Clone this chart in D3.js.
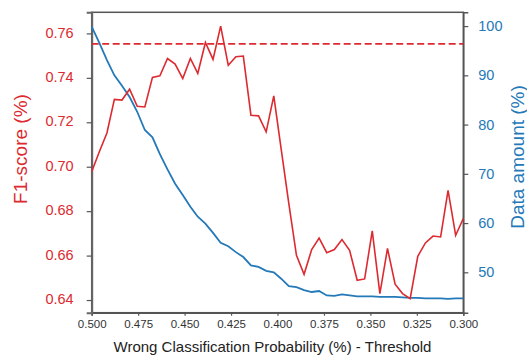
<!DOCTYPE html>
<html>
<head>
<meta charset="utf-8">
<script src="https://cdn.jsdelivr.net/npm/d3@7"></script>
<style>
  body { margin: 0; background: #fff; }
  svg { display: block; font-family: "Liberation Sans", Arial, sans-serif; }
</style>
</head>
<body>
<svg id="chart" width="527" height="356"></svg>
<script>
// thresholds (50 steps from 0.5 down to 0.3)
const thresholds = [0.5000, 0.4959, 0.4918, 0.4878, 0.4837, 0.4796, 0.4755, 0.4714, 0.4673, 0.4633,
  0.4592, 0.4551, 0.4510, 0.4469, 0.4429, 0.4388, 0.4347, 0.4306, 0.4265, 0.4224,
  0.4184, 0.4143, 0.4102, 0.4061, 0.4020, 0.3980, 0.3939, 0.3898, 0.3857, 0.3816,
  0.3776, 0.3735, 0.3694, 0.3653, 0.3612, 0.3571, 0.3531, 0.3490, 0.3449, 0.3408,
  0.3367, 0.3327, 0.3286, 0.3245, 0.3204, 0.3163, 0.3122, 0.3082, 0.3041, 0.3000];

const f1Score = [0.6977, 0.7067, 0.7152, 0.7303, 0.7300, 0.7349, 0.7272, 0.7269, 0.7402, 0.7409,
  0.7487, 0.7462, 0.7397, 0.7487, 0.7420, 0.7559, 0.7483, 0.7633, 0.7457, 0.7495,
  0.7498, 0.7232, 0.7229, 0.7157, 0.7319, 0.7078, 0.6834, 0.6601, 0.6516, 0.6627,
  0.6679, 0.6613, 0.6627, 0.6672, 0.6624, 0.6489, 0.6495, 0.6711, 0.6429, 0.6632,
  0.6471, 0.6429, 0.6406, 0.6597, 0.6657, 0.6688, 0.6684, 0.6894, 0.6691, 0.6767];

const dataAmount = [99.9, 96.6, 93.1, 90.0, 87.9, 85.6, 82.6, 78.9, 77.4, 74.0,
  70.9, 68.0, 65.7, 63.3, 61.3, 59.9, 58.0, 56.0, 55.3, 54.1,
  53.1, 51.4, 51.1, 50.3, 50.0, 48.7, 47.2, 47.0, 46.4, 46.0,
  46.2, 45.3, 45.2, 45.5, 45.3, 45.1, 45.1, 45.1, 45.0, 45.0,
  45.0, 44.9, 44.8, 44.8, 44.7, 44.7, 44.7, 44.6, 44.7, 44.7];

const baselineF1 = 0.7553;

const xTicks = [0.500, 0.475, 0.450, 0.425, 0.400, 0.375, 0.350, 0.325, 0.300];
const leftTicks = [0.64, 0.66, 0.68, 0.70, 0.72, 0.74, 0.76];
const rightTicks = [50, 60, 70, 80, 90, 100];

const red = "#dc2a30";
const blue = "#2479b8";

const svg = d3.select("#chart");
const plotL = 91.7, plotR = 463.3, plotT = 12.3, plotB = 312.7;

const x = d3.scaleLinear().domain([0.5, 0.3]).range([plotL, plotR]);
const yL = d3.scaleLinear().domain([0.6343, 0.7695]).range([plotB, plotT]);
const yR = d3.scaleLinear().domain([41.8, 102.8]).range([plotB, plotT]);

// frame
svg.append("rect")
  .attr("x", plotL).attr("y", plotT)
  .attr("width", plotR - plotL).attr("height", plotB - plotT)
  .attr("fill", "none").attr("stroke", "#555").attr("stroke-width", 1.5);

// axes
const xAxis = svg.append("g")
  .attr("transform", `translate(0,${plotB})`)
  .call(d3.axisBottom(x).tickValues(xTicks).tickFormat(d => d.toFixed(3)).tickSize(3).tickPadding(4));
xAxis.selectAll("text").attr("fill", "#333").attr("font-size", 11.5);

const lAxis = svg.append("g")
  .attr("transform", `translate(${plotL},0)`)
  .call(d3.axisLeft(yL).tickValues(leftTicks).tickFormat(d => d.toFixed(2)).tickSize(5).tickPadding(13));
lAxis.selectAll("text").attr("fill", red).attr("font-size", 14.5).attr("dy", "0.25em");

const rAxis = svg.append("g")
  .attr("transform", `translate(${plotR},0)`)
  .call(d3.axisRight(yR).tickValues(rightTicks).tickSize(5).tickPadding(10));
rAxis.selectAll("text").attr("fill", blue).attr("font-size", 14.5);

[xAxis, lAxis, rAxis].forEach(g => {
  g.select(".domain").attr("stroke", "#555").attr("stroke-width", 1.5);
  g.selectAll(".tick line").attr("stroke", "#555").attr("stroke-width", 1.2);
});
lAxis.select(".domain").attr("stroke", "#666").attr("stroke-width", 2);

// baseline dashed line
svg.append("line")
  .attr("x1", plotL).attr("x2", plotR)
  .attr("y1", yL(baselineF1)).attr("y2", yL(baselineF1))
  .attr("stroke", red).attr("stroke-width", 1.7)
  .attr("stroke-dasharray", "7,3.5");

// blue data amount line
svg.append("path")
  .datum(dataAmount)
  .attr("fill", "none").attr("stroke", blue).attr("stroke-width", 1.8)
  .attr("d", d3.line().x((d, i) => x(thresholds[i])).y(d => yR(d)));

// red F1 line
svg.append("path")
  .datum(f1Score)
  .attr("fill", "none").attr("stroke", red).attr("stroke-width", 1.6)
  .attr("d", d3.line().x((d, i) => x(thresholds[i])).y(d => yL(d)));

// axis titles
svg.append("text")
  .attr("transform", `translate(27,149) rotate(-90)`)
  .attr("text-anchor", "middle")
  .attr("fill", red).attr("font-size", 19)
  .text("F1-score (%)");

svg.append("text")
  .attr("transform", `translate(524,157) rotate(-90)`)
  .attr("text-anchor", "middle")
  .attr("fill", blue).attr("font-size", 19)
  .text("Data amount (%)");

svg.append("text")
  .attr("x", 272.5).attr("y", 352)
  .attr("text-anchor", "middle")
  .attr("fill", "#222").attr("font-size", 15)
  .text("Wrong Classification Probability (%) - Threshold");
</script>
</body>
</html>
